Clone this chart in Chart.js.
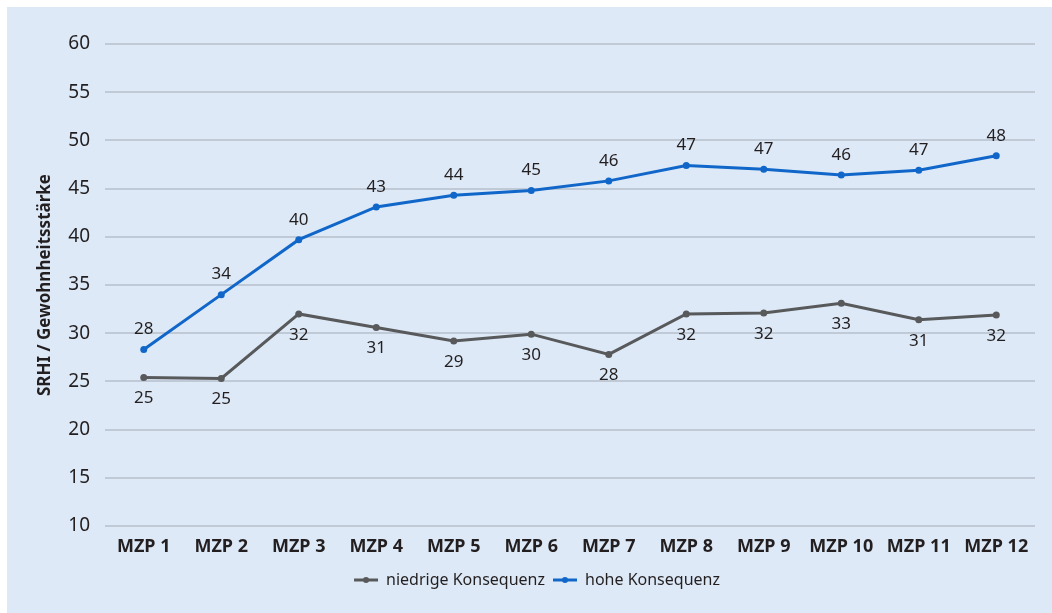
<!DOCTYPE html>
<html>
<head>
<meta charset="utf-8">
<script src="https://cdn.jsdelivr.net/npm/chart.js@4.4.1/dist/chart.umd.min.js"></script>
<style>
  html, body { margin: 0; padding: 0; background: #ffffff; }
  #panel { position: absolute; left: 7px; top: 7px; width: 1045px; height: 606px; background: #dde9f7; }
  canvas { display: block; }
</style>
</head>
<body>
<div id="panel"><canvas id="c" width="1045" height="606"></canvas></div>
<script>
const categories = ['MZP 1', 'MZP 2', 'MZP 3', 'MZP 4', 'MZP 5', 'MZP 6', 'MZP 7', 'MZP 8', 'MZP 9', 'MZP 10', 'MZP 11', 'MZP 12'];
const niedrigeKonsequenz = [25.4, 25.3, 32.0, 30.6, 29.2, 29.9, 27.8, 32.0, 32.1, 33.1, 31.4, 31.9];
const hoheKonsequenz = [28.3, 34.0, 39.7, 43.1, 44.3, 44.8, 45.8, 47.4, 47.0, 46.4, 46.9, 48.4];
const yTicks = [10, 15, 20, 25, 30, 35, 40, 45, 50, 55, 60];

const FONT = '"Noto Sans", "Open Sans", sans-serif';
const GREY = '#58595b';
const BLUE = '#1167c9';

// Value labels: above the points for the blue series, below for the grey one
const valueLabels = {
  id: 'valueLabels',
  afterDatasetsDraw(chart) {
    const ctx = chart.ctx;
    ctx.save();
    ctx.font = '17px ' + FONT;
    ctx.fillStyle = '#231f20';
    ctx.textAlign = 'center';
    ctx.textBaseline = 'middle';
    chart.data.datasets.forEach((ds, i) => {
      const meta = chart.getDatasetMeta(i);
      const dy = ds.labelAbove ? -20 : 21;
      meta.data.forEach((pt, j) => {
        ctx.fillText(Math.round(ds.data[j]).toString(), pt.x, pt.y + dy);
      });
    });
    ctx.restore();
  }
};

// Small dot in the middle of each legend line marker
const legendDots = {
  id: 'legendDots',
  afterDraw(chart) {
    const legend = chart.legend;
    if (!legend || !legend.legendHitBoxes) return;
    const ctx = chart.ctx;
    const bw = legend.options.labels.pointStyleWidth;
    const fs = legend.options.labels.font.size;
    ctx.save();
    legend.legendHitBoxes.forEach((box, i) => {
      ctx.fillStyle = chart.data.datasets[i].borderColor;
      ctx.beginPath();
      ctx.arc(box.left + bw / 2, box.top + fs / 2, 3, 0, Math.PI * 2);
      ctx.fill();
    });
    ctx.restore();
  }
};

new Chart(document.getElementById('c'), {
  type: 'line',
  data: {
    labels: categories,
    datasets: [
      {
        label: 'niedrige Konsequenz',
        data: niedrigeKonsequenz,
        borderColor: GREY,
        backgroundColor: GREY,
        borderWidth: 3,
        pointRadius: 3.5,
        pointBorderWidth: 0,
        labelAbove: false,
        tension: 0
      },
      {
        label: 'hohe Konsequenz',
        data: hoheKonsequenz,
        borderColor: BLUE,
        backgroundColor: BLUE,
        borderWidth: 3,
        pointRadius: 3.5,
        pointBorderWidth: 0,
        labelAbove: true,
        tension: 0
      }
    ]
  },
  options: {
    responsive: false,
    animation: false,
    layout: { padding: { left: 32, right: 17, top: 37, bottom: 15 } },
    plugins: {
      tooltip: { enabled: false },
      legend: {
        position: 'bottom',
        labels: {
          usePointStyle: true,
          pointStyle: 'line',
          pointStyleWidth: 24,
          boxHeight: 3,
          padding: 8,
          color: '#231f20',
          font: { family: FONT, size: 16 },
          generateLabels(chart) {
            return chart.data.datasets.map((ds, i) => ({
              text: ds.label,
              fillStyle: ds.borderColor,
              strokeStyle: ds.borderColor,
              lineWidth: 3,
              pointStyle: 'line',
              datasetIndex: i,
              hidden: false,
              fontColor: '#231f20'
            }));
          }
        }
      }
    },
    scales: {
      x: {
        offset: true,
        grid: { display: false, drawTicks: false },
        border: { display: false },
        ticks: {
          color: '#231f20',
          padding: 10,
          maxRotation: 0,
          autoSkip: false,
          font: { family: FONT, size: 18, weight: 'bold' }
        },
        afterFit(scale) { scale.height = 38; }
      },
      y: {
        min: 10,
        max: 60,
        afterBuildTicks(scale) { scale.ticks = yTicks.map(v => ({ value: v })); },
        grid: { color: '#bfcad6', lineWidth: 2, drawTicks: false },
        border: { display: false },
        ticks: {
          color: '#231f20',
          padding: 15,
          font: { family: FONT, size: 19 }
        },
        title: {
          display: true,
          text: 'SRHI / Gewohnheitsstärke',
          color: '#231f20',
          padding: { top: -4, bottom: 0 },
          font: { family: FONT, size: 17, weight: 'bold' }
        },
        afterFit(scale) { scale.width = 66; }
      }
    }
  },
  plugins: [valueLabels, legendDots]
});
</script>
</body>
</html>
